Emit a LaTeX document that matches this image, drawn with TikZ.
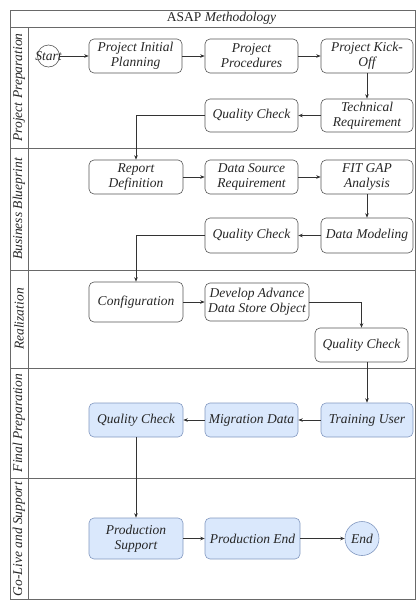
\documentclass[tikz,border=0pt]{standalone}
\usepackage{fontspec}
\setmainfont{Liberation Serif}
\usetikzlibrary{arrows.meta}
\definecolor{bluefill}{RGB}{218,232,252}
\definecolor{blueline}{RGB}{130,152,192}
\definecolor{framec}{RGB}{105,105,105}
\definecolor{boxline}{RGB}{85,85,85}
\begin{document}
\begin{tikzpicture}[x=1pt,y=-1pt,
  txt/.style={font=\fontsize{13.5}{15}\selectfont\itshape, text=black!85},
  box/.style={txt, draw=boxline, rounded corners=5pt, minimum width=93pt, minimum height=34pt, align=center, inner sep=1pt, line width=0.6pt},
  bbox/.style={box, fill=bluefill, draw=blueline},
  conn/.style={draw=black!80, line width=0.6pt, -{Stealth[length=4.5pt,width=3.5pt]}},
  lanelbl/.style={txt, rotate=90},
  frm/.style={draw=framec, line width=0.8pt}]
\useasboundingbox (0,0) rectangle (416,600);
% frame and lanes
\draw[frm] (10,10) rectangle (415,599.5);
\draw[frm] (10,27) -- (415,27);
\draw[frm] (28,27) -- (28,599.5);
\draw[frm] (10,148) -- (415,148);
\draw[frm] (10,270) -- (415,270);
\draw[frm] (10,368) -- (415,368);
\draw[frm] (10,478) -- (415,478);
\node[txt] (title) at (221.5,18.5) {\upshape ASAP \itshape Methodology};
\node[lanelbl] (l1) at (19,87.5) {Project Preparation};
\node[lanelbl] (l2) at (19,209) {Business Blueprint};
\node[lanelbl] (l3) at (19,319) {Realization};
\node[lanelbl] (l4) at (19,423) {Final Preparation};
\node[lanelbl] (l5) at (19,539) {Go-Live and Support};
% Project Preparation
\node[draw=boxline, line width=0.6pt, circle, minimum size=22pt, inner sep=0pt,
      label={[txt]center:Start}] (start) at (48.5,56) {};
\node[box] (pip) at (135.5,56) {Project Initial\\Planning};
\node[box] (ppr) at (251.5,56) {Project\\Procedures};
\node[box, minimum width=92pt] (pko) at (367,56) {Project Kick-\\Off};
\node[box, minimum width=92pt, minimum height=33pt] (tr) at (367,115.5) {Technical\\Requirement};
\node[box, minimum height=33pt] (qc1) at (251.5,115.5) {Quality Check};
% Business Blueprint
\node[box, minimum width=94pt] (rd) at (136,177) {Report\\Definition};
\node[box] (dsr) at (251.5,177) {Data Source\\Requirement};
\node[box, minimum width=92pt] (fga) at (367,177) {FIT GAP\\Analysis};
\node[box, minimum width=92pt, minimum height=35pt] (dm) at (367,235.5) {Data Modeling};
\node[box, minimum height=35pt] (qc2) at (251.5,235.5) {Quality Check};
% Realization
\node[box, minimum width=94pt, minimum height=40pt] (conf) at (136,302) {Configuration};
\node[box, minimum width=104pt, minimum height=38pt, inner sep=0.5pt] (dad) at (257,302) {Develop Advance\\Data Store Object};
\node[box, minimum height=34pt] (qc3) at (361.5,345) {Quality Check};
% Final Preparation
\node[bbox, minimum width=92pt] (tu) at (367,420) {Training User};
\node[bbox] (md) at (251.5,420) {Migration Data};
\node[bbox, minimum width=94pt] (qc4) at (136,420) {Quality Check};
% Go-Live
\node[bbox, minimum width=94pt, minimum height=41pt] (ps) at (136,538.5) {Production\\Support};
\node[bbox, minimum width=95pt, minimum height=41pt] (pe) at (252.5,538.5) {Production End};
\node[circle, fill=bluefill, draw=blueline, line width=0.6pt, minimum size=34pt, inner sep=0pt, txt] (endn) at (362,538.5) {End};
% connectors
\draw[conn] (start) -- (pip);
\draw[conn] (pip) -- (ppr);
\draw[conn] (ppr) -- (pko);
\draw[conn] (pko) -- (tr);
\draw[conn] (tr) -- (qc1);
\draw[conn] (qc1.west) -| (rd.north);
\draw[conn] (rd) -- (dsr);
\draw[conn] (dsr) -- (fga);
\draw[conn] (fga) -- (dm);
\draw[conn] (dm) -- (qc2);
\draw[conn] (qc2.west) -| (conf.north);
\draw[conn] (conf) -- (dad);
\draw[conn] (dad.east) -| (qc3.north);
\draw[conn] (qc3.south -| tu.north) -- (tu.north);
\draw[conn] (tu) -- (md);
\draw[conn] (md) -- (qc4);
\draw[conn] (qc4) -- (ps);
\draw[conn] (ps) -- (pe);
\draw[conn] (pe) -- (endn);
\end{tikzpicture}
\end{document}
